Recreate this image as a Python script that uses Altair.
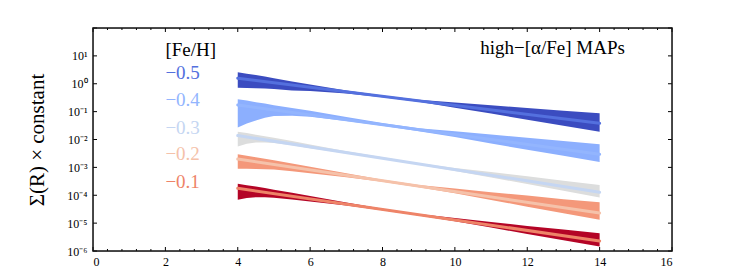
import altair as alt
import pandas as pd

# ---------------- data (log10 values) ----------------
R_GRID = [4, 4.25, 4.5, 4.75, 5, 5.5, 6, 7, 8, 9, 10, 11, 12, 13, 14]

groups = ["−0.5", "−0.4", "−0.3", "−0.2", "−0.1"]

band_hi = {
    "−0.5": [0.41, 0.36, 0.31, 0.26, 0.20, 0.08, -0.03, -0.24, -0.42, -0.57, -0.67, -0.77, -0.87, -0.97, -1.06],
    "−0.4": [-0.56, -0.60, -0.66, -0.71, -0.77, -0.87, -0.97, -1.19, -1.41, -1.60, -1.70, -1.82, -1.94, -2.05, -2.17],
    "−0.3": [-1.72, -1.77, -1.83, -1.88, -1.94, -2.05, -2.18, -2.42, -2.64, -2.85, -3.02, -3.17, -3.32, -3.48, -3.63],
    "−0.2": [-2.53, -2.58, -2.64, -2.69, -2.74, -2.86, -2.98, -3.21, -3.44, -3.63, -3.76, -3.89, -4.01, -4.14, -4.25],
    "−0.1": [-3.59, -3.64, -3.69, -3.74, -3.80, -3.91, -4.03, -4.26, -4.48, -4.67, -4.82, -4.96, -5.10, -5.23, -5.36],
}
band_lo = {
    "−0.5": [-0.14, -0.15, -0.16, -0.17, -0.19, -0.24, -0.26, -0.35, -0.48, -0.65, -0.86, -1.07, -1.29, -1.51, -1.72],
    "−0.4": [-1.57, -1.43, -1.32, -1.22, -1.16, -1.15, -1.18, -1.34, -1.51, -1.70, -1.91, -2.14, -2.37, -2.58, -2.81],
    "−0.3": [-2.25, -2.15, -2.11, -2.11, -2.13, -2.21, -2.31, -2.50, -2.70, -2.91, -3.13, -3.36, -3.60, -3.84, -4.08],
    "−0.2": [-3.05, -3.05, -3.06, -3.07, -3.08, -3.14, -3.21, -3.35, -3.52, -3.71, -3.93, -4.17, -4.41, -4.65, -4.88],
    "−0.1": [-4.16, -4.10, -4.07, -4.07, -4.09, -4.15, -4.22, -4.37, -4.54, -4.73, -4.93, -5.16, -5.39, -5.61, -5.84],
}
LINE_R = [4, 14]
line_vals = {
    "−0.5": [0.20, -1.42],
    "−0.4": [-0.76, -2.53],
    "−0.3": [-1.86, -3.89],
    "−0.2": [-2.70, -4.64],
    "−0.1": [-3.75, -5.64],
}
label_log = [0.38, -0.58, -1.58, -2.52, -3.54]

band_colors = ["#3b4cc0", "#8caffe", "#dcdddd", "#f4987a", "#b40426"]
line_colors = ["#5470de", "#93b5fe", "#c5d6f2", "#f5c2aa", "#ee8468"]

x_major = [0, 2, 4, 6, 8, 10, 12, 14, 16]
x_minor = [v / 10 for v in range(0, 161, 4) if v % 20 != 0]
y_exp = [-6, -5, -4, -3, -2, -1, 0, 1, 2]
y_labels = ["10⁻⁶", "10⁻⁵", "10⁻⁴", "10⁻³", "10⁻²", "10⁻¹", "10⁰", "10¹", ""]

# ---------------- tables ----------------
band_rows = []
for g, bc in zip(groups, band_colors):
    for r, h, l in zip(R_GRID, band_hi[g], band_lo[g]):
        band_rows.append({"R": r, "hi": 10 ** h, "lo": 10 ** l, "g": g, "c": bc})
bands = pd.DataFrame(band_rows)

line_rows = []
for g, lc in zip(groups, line_colors):
    for r, v in zip(LINE_R, line_vals[g]):
        line_rows.append({"R": r, "v": 10 ** v, "g": g, "c": lc})
lines = pd.DataFrame(line_rows)

W, H = 579, 223
FONT = "Liberation Serif"
INK = "#000000"

xs = alt.Scale(domain=[0, 16], nice=False, zero=False)
ys = alt.Scale(type="log", domain=[1e-6, 1e2], nice=False)

expr = ""
for e, lab in zip(y_exp, y_labels):
    expr += f"datum.value < {10 ** e * 3} ? '{lab}' : "
expr += "''"

x_axis = alt.Axis(values=x_major, ticks=False, domain=False, grid=False, title=None,
                  labelFont=FONT, labelFontSize=12, labelPadding=5, labelColor=INK,
                  format="d")
y_axis = alt.Axis(values=[10 ** e for e in y_exp[:-1]], ticks=False, domain=False, grid=False,
                  labelExpr=expr, labelFont=FONT, labelFontSize=12, labelPadding=6,
                  labelColor=INK, title="Σ(R) × constant", titleFont=FONT,
                  titleFontSize=21, titleFontWeight="normal", titleColor=INK,
                  titleX=-56, titleY=H / 2, titleAlign="center", titleBaseline="middle",
                  titleAngle=-90)

band_layer = alt.Chart(bands).mark_area(opacity=1, interpolate="linear").encode(
    x=alt.X("R:Q", scale=xs, axis=x_axis),
    y=alt.Y("hi:Q", scale=ys, axis=y_axis),
    y2="lo:Q",
    color=alt.Color("c:N", scale=None),
    detail="g:N",
)

line_layer = alt.Chart(lines).mark_line(strokeWidth=3, strokeCap="round").encode(
    x=alt.X("R:Q", scale=xs),
    y=alt.Y("v:Q", scale=ys),
    color=alt.Color("c:N", scale=None),
    detail="g:N",
)

lab_df = pd.DataFrame({"x": [2.0] * 5, "y": [10 ** v for v in label_log], "t": groups,
                       "c": line_colors})
label_layer = alt.Chart(lab_df).mark_text(align="left", baseline="middle", font=FONT,
                                          fontSize=19).encode(
    x=alt.X("x:Q", scale=xs), y=alt.Y("y:Q", scale=ys), text="t:N",
    color=alt.Color("c:N", scale=None))

head_df = pd.DataFrame({"x": [2.0], "y": [10 ** 1.21], "t": ["[Fe/H]"]})
head_layer = alt.Chart(head_df).mark_text(align="left", baseline="middle", font=FONT,
                                          fontSize=19, color=INK).encode(
    x=alt.X("x:Q", scale=xs), y=alt.Y("y:Q", scale=ys), text="t:N")

title_df = pd.DataFrame({"x": [14.7], "y": [10 ** 1.27], "t": ["high−[α/Fe] MAPs"]})
title_layer = alt.Chart(title_df).mark_text(align="right", baseline="middle", font=FONT,
                                            fontSize=19, color=INK).encode(
    x=alt.X("x:Q", scale=xs), y=alt.Y("y:Q", scale=ys), text="t:N")

# inward ticks
xmaj = pd.DataFrame({"v": x_major})
xmin = pd.DataFrame({"v": x_minor})
ymaj = pd.DataFrame({"v": [10 ** e for e in y_exp]})

tick_layers = [
    alt.Chart(xmaj).mark_rule(color=INK, strokeWidth=1).encode(
        x=alt.X("v:Q", scale=xs), y=alt.value(H), y2=alt.value(H - 4)),
    alt.Chart(xmaj).mark_rule(color=INK, strokeWidth=1).encode(
        x=alt.X("v:Q", scale=xs), y=alt.value(0), y2=alt.value(4)),
    alt.Chart(xmin).mark_rule(color=INK, strokeWidth=1).encode(
        x=alt.X("v:Q", scale=xs), y=alt.value(H), y2=alt.value(H - 2)),
    alt.Chart(xmin).mark_rule(color=INK, strokeWidth=1).encode(
        x=alt.X("v:Q", scale=xs), y=alt.value(0), y2=alt.value(2)),
    alt.Chart(ymaj).mark_rule(color=INK, strokeWidth=1).encode(
        y=alt.Y("v:Q", scale=ys), x=alt.value(0), x2=alt.value(4)),
    alt.Chart(ymaj).mark_rule(color=INK, strokeWidth=1).encode(
        y=alt.Y("v:Q", scale=ys), x=alt.value(W), x2=alt.value(W - 4)),
]

frame = alt.Chart(pd.DataFrame({"k": [0]})).mark_rect(
    fill=None, fillOpacity=0, stroke="#111111", strokeWidth=1.5).encode(
    x=alt.value(0), x2=alt.value(W), y=alt.value(0), y2=alt.value(H))

chart = alt.layer(band_layer, line_layer, label_layer, head_layer, title_layer,
                  *tick_layers, frame).properties(
    width=W, height=H,
    autosize=alt.AutoSizeParams(type="none"),
    padding={"left": 85, "top": 20, "right": 67, "bottom": 21},
).configure_view(stroke=None).configure(background="white")

chart.save("out.html", embed_options={"renderer": "svg", "actions": False})
